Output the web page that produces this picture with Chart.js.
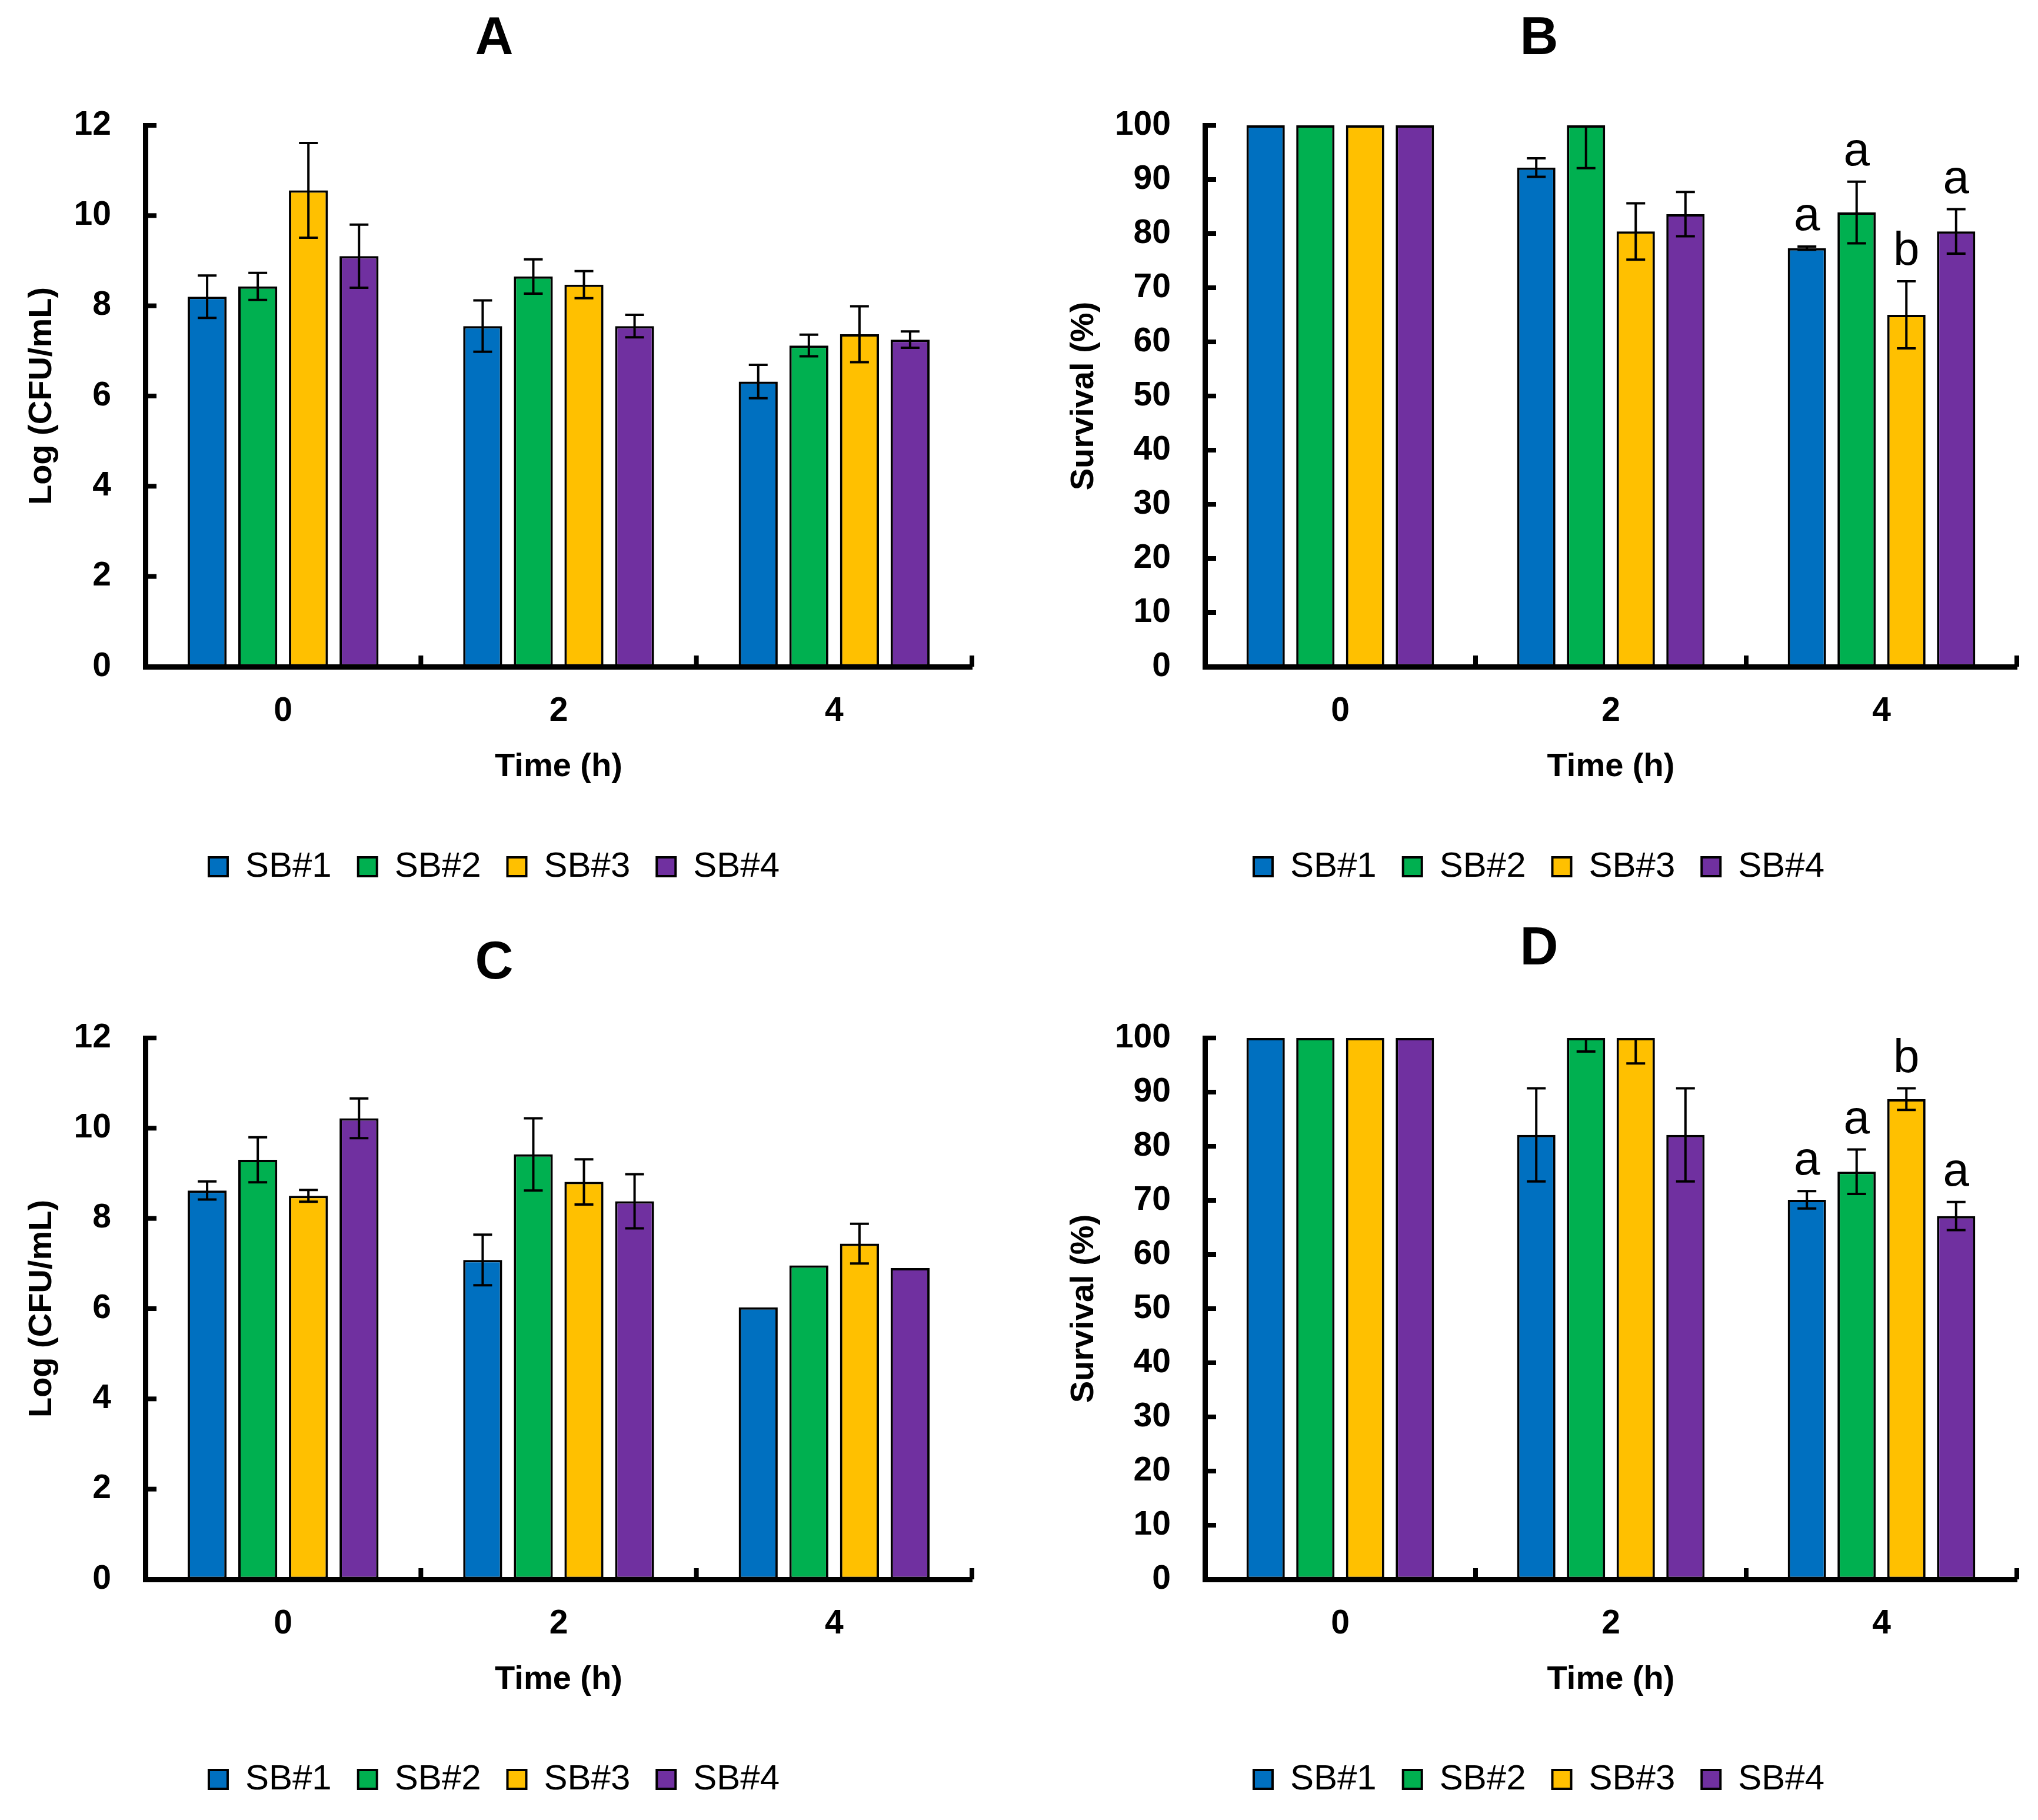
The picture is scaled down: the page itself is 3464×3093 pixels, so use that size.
<!DOCTYPE html>
<html>
<head>
<meta charset="utf-8">
<script src="https://cdn.jsdelivr.net/npm/chart.js@4.4.1/dist/chart.umd.min.js"></script>
<style>
  html, body { margin: 0; padding: 0; background: #fff; }
  body { width: 3464px; height: 3093px; position: relative; overflow: hidden; }
  canvas { position: absolute; }
</style>
</head>
<body>
<canvas id="chartA" width="1680" height="1546" style="left:0px;top:0px"></canvas>
<canvas id="chartB" width="1680" height="1546" style="left:1776px;top:0px"></canvas>
<canvas id="chartC" width="1680" height="1542" style="left:0px;top:1551px"></canvas>
<canvas id="chartD" width="1680" height="1542" style="left:1776px;top:1551px"></canvas>
<script>
const FONT = "'Liberation Sans', Arial, sans-serif";

const timeLabels = ['0', '2', '4'];
const strainNames = ['SB#1', 'SB#2', 'SB#3', 'SB#4'];
const strainColors = ['#0070C0', '#00B050', '#FFC000', '#7030A0'];
const logTicks = [0, 2, 4, 6, 8, 10, 12];
const survivalTicks = [0, 10, 20, 30, 40, 50, 60, 70, 80, 90, 100];

// A - Log (CFU/mL), one row per strain, values at 0, 2, 4 h
const meansA = [[8.2, 7.55, 6.32], [8.43, 8.65, 7.12], [10.56, 8.47, 7.37], [9.1, 7.55, 7.25]];
const errorsA = [[0.47, 0.57, 0.37], [0.3, 0.38, 0.24], [1.05, 0.3, 0.62], [0.7, 0.25, 0.18]];

// B - Survival (%)
const meansB = [[100, 92.2, 77.3], [100, 100, 83.9], [100, 80.4, 65.0], [100, 83.6, 80.4]];
const errorsB = [[null, 1.7, 0.3], [null, 7.9, 5.7], [null, 5.2, 6.2], [null, 4.1, 4.1]];
const lettersB = [['', '', 'a'], ['', '', 'a'], ['', '', 'b'], ['', '', 'a']];

// C - Log (CFU/mL)
const meansC = [[8.62, 7.08, 6.03], [9.3, 9.42, 6.96], [8.5, 8.81, 7.44], [10.22, 8.38, 6.9]];
const errorsC = [[0.2, 0.56, null], [0.5, 0.8, null], [0.13, 0.5, 0.44], [0.44, 0.6, null]];

// D - Survival (%)
const meansD = [[100, 82.1, 70.1], [100, 100, 75.3], [100, 100, 88.7], [100, 82.1, 67.1]];
const errorsD = [[null, 8.6, 1.6], [null, 2.5, 4.1], [null, 4.7, 2.0], [null, 8.6, 2.6]];
const lettersD = [['', '', 'a'], ['', '', 'a'], ['', '', 'b'], ['', '', 'a']];

// error bars + significance letters
const errorBarPlugin = {
  id: 'errorBars',
  afterDatasetsDraw(chart) {
    const { ctx, chartArea, scales: { y } } = chart;
    ctx.save();
    ctx.beginPath();
    ctx.rect(chartArea.left, chartArea.top, chartArea.right - chartArea.left, chartArea.bottom - chartArea.top);
    ctx.clip();
    ctx.strokeStyle = '#000';
    ctx.lineWidth = 4;
    chart.data.datasets.forEach((ds, di) => {
      chart.getDatasetMeta(di).data.forEach((bar, i) => {
        const e = ds.errors[i];
        if (e == null) return;
        const v = ds.data[i];
        const yHi = y.getPixelForValue(v + e);
        const yLo = y.getPixelForValue(v - e);
        ctx.beginPath();
        ctx.moveTo(bar.x, yHi); ctx.lineTo(bar.x, yLo);
        ctx.moveTo(bar.x - 16, yHi); ctx.lineTo(bar.x + 16, yHi);
        ctx.moveTo(bar.x - 16, yLo); ctx.lineTo(bar.x + 16, yLo);
        ctx.stroke();
      });
    });
    ctx.restore();

    ctx.save();
    ctx.fillStyle = '#000';
    ctx.font = '80px ' + FONT;
    ctx.textAlign = 'center';
    ctx.textBaseline = 'alphabetic';
    chart.data.datasets.forEach((ds, di) => {
      if (!ds.letters) return;
      chart.getDatasetMeta(di).data.forEach((bar, i) => {
        const txt = ds.letters[i];
        if (!txt) return;
        const top = ds.data[i] + (ds.errors[i] || 0);
        ctx.fillText(txt, bar.x, y.getPixelForValue(top) - 28);
      });
    });
    ctx.restore();
  }
};

// Excel style tick marks pointing into the plot
const innerTickPlugin = {
  id: 'innerTicks',
  afterDraw(chart) {
    const { ctx, chartArea, scales: { x, y } } = chart;
    ctx.save();
    ctx.strokeStyle = '#000';
    ctx.lineWidth = 8;
    y.ticks.forEach((t, i) => {
      const py = y.getPixelForTick(i);
      ctx.beginPath();
      ctx.moveTo(chartArea.left, py);
      ctx.lineTo(chartArea.left + 19, py);
      ctx.stroke();
    });
    const half = (x.getPixelForTick(1) - x.getPixelForTick(0)) / 2;
    for (let i = 0; i <= x.ticks.length; i++) {
      const px = i < x.ticks.length ? x.getPixelForTick(i) - half : x.getPixelForTick(i - 1) + half;
      ctx.beginPath();
      ctx.moveTo(px, chartArea.bottom);
      ctx.lineTo(px, chartArea.bottom - 19);
      ctx.stroke();
    }
    ctx.restore();
  }
};

function buildPanel(id, o) {
  const datasets = strainNames.map((name, s) => ({
    label: name,
    data: o.means[s],
    errors: o.errors[s],
    letters: o.letters ? o.letters[s] : null,
    backgroundColor: strainColors[s],
    borderColor: '#000',
    borderWidth: 4,
    borderSkipped: false,
    categoryPercentage: 0.735,
    barPercentage: 0.77
  }));

  return new Chart(document.getElementById(id), {
    type: 'bar',
    data: { labels: timeLabels, datasets: datasets },
    options: {
      responsive: false,
      animation: false,
      devicePixelRatio: 1,
      layout: { padding: { left: 28, right: 28, top: 0, bottom: o.padBottom } },
      plugins: {
        title: {
          display: true,
          text: o.title,
          color: '#000',
          font: { family: FONT, size: 90, weight: 'bold', lineHeight: 1 },
          padding: { top: o.titleTop, bottom: 213 - 90 - o.titleTop }
        },
        legend: {
          position: 'bottom',
          labels: {
            color: '#000',
            font: { family: FONT, size: 60 },
            boxWidth: 32,
            boxHeight: 32,
            padding: 45
          }
        },
        tooltip: { enabled: false }
      },
      scales: {
        x: {
          grid: { drawOnChartArea: false, drawTicks: false },
          border: { color: '#000', width: 9 },
          ticks: { color: '#000', font: { family: FONT, size: 57, weight: 'bold' }, padding: 42 },
          title: {
            display: true,
            text: 'Time (h)',
            color: '#000',
            font: { family: FONT, size: 56, weight: 'bold' },
            padding: { top: 0, bottom: 61 }
          },
          afterFit: (s) => { s.height = 265; }
        },
        y: {
          min: 0,
          max: o.max,
          afterBuildTicks: (s) => { s.ticks = o.ticks.map(v => ({ value: v })); },
          grid: { drawOnChartArea: false, drawTicks: false },
          border: { color: '#000', width: 9 },
          ticks: { color: '#000', font: { family: FONT, size: 57, weight: 'bold' }, padding: 58 },
          title: {
            display: true,
            text: o.yTitle,
            color: '#000',
            font: { family: FONT, size: 56, weight: 'bold' },
            padding: { top: o.yTitlePad, bottom: 0 }
          },
          afterFit: (s) => { s.width = o.yWidth; }
        }
      }
    },
    plugins: [errorBarPlugin, innerTickPlugin]
  });
}

buildPanel('chartA', { title: 'A', titleTop: 22, means: meansA, errors: errorsA, max: 12, ticks: logTicks,
  yTitle: 'Log (CFU/mL)', yTitlePad: 10, yWidth: 219, padBottom: 33 });
buildPanel('chartB', { title: 'B', titleTop: 22, means: meansB, errors: errorsB, letters: lettersB, max: 100, ticks: survivalTicks,
  yTitle: 'Survival (%)', yTitlePad: 5, yWidth: 244, padBottom: 33 });
buildPanel('chartC', { title: 'C', titleTop: 42, means: meansC, errors: errorsC, max: 12, ticks: logTicks,
  yTitle: 'Log (CFU/mL)', yTitlePad: 10, yWidth: 219, padBottom: 29 });
buildPanel('chartD', { title: 'D', titleTop: 18, means: meansD, errors: errorsD, letters: lettersD, max: 100, ticks: survivalTicks,
  yTitle: 'Survival (%)', yTitlePad: 5, yWidth: 244, padBottom: 29 });
</script>
</body>
</html>
